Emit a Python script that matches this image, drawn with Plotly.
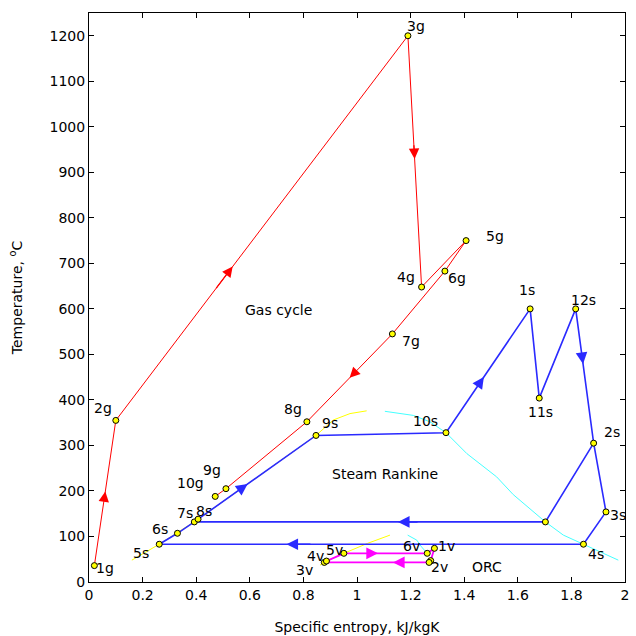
import plotly.graph_objects as go

# ---------------- data ----------------
# Gas cycle state points (entropy kJ/kgK, temperature C)
gas_labels = ["1g", "2g", "3g", "4g", "5g", "6g", "7g", "8g", "9g", "10g"]
gas_s = [0.02, 0.10, 1.19, 1.241, 1.407, 1.328, 1.132, 0.813, 0.511, 0.471]
gas_T = [36, 355, 1200, 648, 750, 683, 545, 352, 205, 188]
gas_path = ["1g", "2g", "3g", "4g", "5g", "6g", "7g", "8g", "9g", "10g"]

# Steam Rankine state points
steam_labels = ["5s", "6s", "7s", "8s", "9s", "10s", "1s", "11s", "12s", "2s", "3s", "4s", "13s"]
steam_s = [0.262, 0.33, 0.393, 0.407, 0.847, 1.332, 1.646, 1.680, 1.816, 1.883, 1.929, 1.845, 1.703]
steam_T = [83, 107, 132, 138, 322, 328, 600, 404, 600, 305, 154, 83, 132]
steam_path = ["5s", "6s", "7s", "8s", "9s", "10s", "1s", "11s", "12s", "2s", "3s", "4s", "5s"]
steam_branch = ["2s", "13s", "7s"]

# ORC state points
orc_labels = ["1v", "2v", "2va", "3v", "4v", "5v", "6v"]
orc_s = [1.289, 1.275, 1.269, 0.878, 0.886, 0.951, 1.262]
orc_T = [74, 47, 43, 43, 46, 63, 63]
orc_path = ["1v", "2v", "2va", "3v", "4v", "5v", "6v", "1v"]

# Saturation curves
steam_liq_s = [0.16, 0.262, 0.40, 0.60, 0.847, 0.912, 0.974, 1.036]
steam_liq_T = [48, 83, 135, 219, 322, 356, 370, 376]
steam_vap_s = [1.104, 1.21, 1.272, 1.332, 1.41, 1.459, 1.521, 1.583, 1.703, 1.77, 1.845, 1.975]
steam_vap_T = [375, 366, 352, 328, 282, 260, 231, 192, 132, 103, 83, 48]
orc_liq_s = [0.862, 0.886, 0.951, 1.04, 1.123]
orc_liq_T = [37, 46, 63, 85, 103]
orc_vap_s = [1.189, 1.223, 1.241, 1.262]
orc_vap_T = [103, 92, 77, 63]

# Flow arrows: (from point, to point, fraction along segment)
gas_arrows = [("1g", "2g", 0.51), ("2g", "3g", 0.40), ("3g", "4g", 0.49), ("7g", "8g", 0.50)]
steam_arrows = [("8s", "9s", 0.42), ("10s", "1s", 0.45), ("12s", "2s", 0.41),
                ("13s", "7s", 0.42), ("4s", "5s", 0.70)]
orc_arrows = [("5v", "6v", 0.41), ("2va", "3v", 0.345)]

# Text labels
region_texts = [("Gas cycle", 0.706, 598), ("Steam Rankine", 1.104, 238), ("ORC", 1.485, 33)]

x_ticks = [0, 0.2, 0.4, 0.6, 0.8, 1.0, 1.2, 1.4, 1.6, 1.8, 2.0]
x_ticktext = ["0", "0.2", "0.4", "0.6", "0.8", "1", "1.2", "1.4", "1.6", "1.8", "2"]
y_ticks = [0, 100, 200, 300, 400, 500, 600, 700, 800, 900, 1000, 1100, 1200]

# ---------------- styling (pixel offsets of point labels) ----------------
label_offsets = {
    "1g": (11, -2), "2g": (-13, 12), "3g": (8, 10), "4g": (-16, 10), "5g": (29, 5),
    "6g": (12, -7), "7g": (19, -7), "8g": (-14, 13), "9g": (-14, 19), "10g": (-25, 13),
    "5s": (-18, -9), "6s": (-17, 4), "7s": (-9, 9), "8s": (6, 8), "9s": (14, 12),
    "10s": (-20, 12), "1s": (-3, 19), "11s": (1, -14), "12s": (8, 9), "2s": (18, 11),
    "3s": (12, -3), "4s": (13, -10),
    "1v": (12, 2), "2v": (9, -6), "3v": (-20, -8), "4v": (-11, 5), "5v": (-9, 3), "6v": (-16, 7),
}

RED = "#ff0000"
BLUE = "#2a2aff"
MAG = "#ff00ff"
YEL = "#ffff00"
CYAN = "#44ffff"
FONT = "DejaVu Sans"

gas = dict(zip(gas_labels, zip(gas_s, gas_T)))
steam = dict(zip(steam_labels, zip(steam_s, steam_T)))
orc = dict(zip(orc_labels, zip(orc_s, orc_T)))
allpts = {**gas, **steam, **orc}

fig = go.Figure()

def add_line(xs, ys, color, width):
    fig.add_trace(go.Scatter(x=xs, y=ys, mode="lines", line=dict(color=color, width=width),
                             hoverinfo="skip", showlegend=False))

# saturation curves
add_line(steam_liq_s, steam_liq_T, YEL, 1)
add_line(steam_vap_s, steam_vap_T, CYAN, 1)
add_line(orc_liq_s, orc_liq_T, YEL, 1)
add_line(orc_vap_s, orc_vap_T, CYAN, 1)

# cycles
add_line([gas[k][0] for k in gas_path], [gas[k][1] for k in gas_path], RED, 1)
add_line([steam[k][0] for k in steam_path], [steam[k][1] for k in steam_path], BLUE, 1.6)
add_line([steam[k][0] for k in steam_branch], [steam[k][1] for k in steam_branch], BLUE, 1.6)
add_line([orc[k][0] for k in orc_path], [orc[k][1] for k in orc_path], MAG, 1.8)

# markers
mx = gas_s + steam_s + orc_s
my = gas_T + steam_T + orc_T
fig.add_trace(go.Scatter(x=mx, y=my, mode="markers",
                         marker=dict(color=YEL, size=6, line=dict(color="black", width=1)),
                         hoverinfo="skip", showlegend=False))

annotations = []

def add_arrows(arrows, pts, color, width, size):
    for a, b, f in arrows:
        x0, y0 = pts[a]
        x1, y1 = pts[b]
        tx, ty = x0 + f * (x1 - x0), y0 + f * (y1 - y0)
        g = max(f - 0.06, 0)
        bx, by = x0 + g * (x1 - x0), y0 + g * (y1 - y0)
        annotations.append(dict(x=tx, y=ty, ax=bx, ay=by, xref="x", yref="y", axref="x", ayref="y",
                                showarrow=True, arrowhead=2, arrowsize=size, arrowwidth=width,
                                arrowcolor=color, text=""))

add_arrows(gas_arrows, gas, RED, 1.3, 1.6)
add_arrows(steam_arrows, steam, BLUE, 1.6, 1.45)
add_arrows(orc_arrows, orc, MAG, 1.8, 1.3)

for lab, (dx, dy) in label_offsets.items():
    x, y = allpts[lab]
    annotations.append(dict(x=x, y=y, text=lab, showarrow=False, xshift=dx, yshift=dy,
                            font=dict(family=FONT, size=14, color="black")))

for txt, x, y in region_texts:
    annotations.append(dict(x=x, y=y, text=txt, showarrow=False,
                            font=dict(family=FONT, size=14, color="black")))

fig.update_layout(
    width=636, height=636,
    margin=dict(l=89, r=11, t=13, b=54),
    paper_bgcolor="white", plot_bgcolor="white",
    font=dict(family=FONT, size=14, color="black"),
    annotations=annotations,
    showlegend=False,
    xaxis=dict(range=[0, 2], tickvals=x_ticks, ticktext=x_ticktext, ticks="inside", ticklen=5,
               tickcolor="black", showline=True, linecolor="black", linewidth=1, mirror="ticks",
               showgrid=False, zeroline=False, tickfont=dict(size=14), automargin=False,
               title=dict(text="Specific entropy, kJ/kgK", font=dict(size=14), standoff=20)),
    yaxis=dict(range=[0, 1250], tickvals=y_ticks, ticks="inside", ticklen=5,
               tickcolor="black", showline=True, linecolor="black", linewidth=1, mirror="ticks",
               showgrid=False, zeroline=False, tickfont=dict(size=14), automargin=False,
               title=dict(text="Temperature, <sup>o</sup>C", font=dict(size=14), standoff=23)),
)

fig.write_html("out.html", config={"displayModeBar": False},
               post_script="document.body.style.margin='0px';")
